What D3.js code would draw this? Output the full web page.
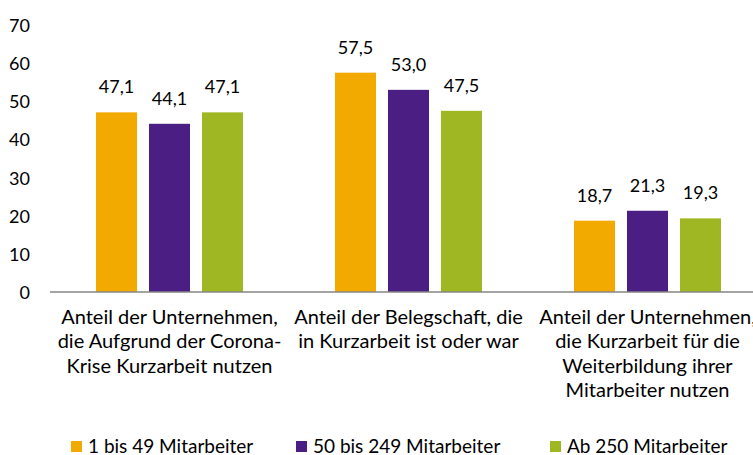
<!DOCTYPE html>
<html><head><meta charset="utf-8">
<script src="https://cdn.jsdelivr.net/npm/d3@7"></script>
<style>
html,body{margin:0;padding:0;background:#fff;}
svg{display:block;font-family:Lato,"Open Sans",sans-serif;}
</style></head>
<body>
<svg id="chart" width="753" height="455"></svg>
<script>
const categories = [
  ["Anteil der Unternehmen,", "die Aufgrund der Corona-", "Krise Kurzarbeit nutzen"],
  ["Anteil der Belegschaft, die", "in Kurzarbeit ist oder war"],
  ["Anteil der Unternehmen,", "die Kurzarbeit für die", "Weiterbildung ihrer", "Mitarbeiter nutzen"]
];
const seriesNames = ["1 bis 49 Mitarbeiter", "50 bis 249 Mitarbeiter", "Ab 250 Mitarbeiter"];
const seriesColors = ["#F2A900", "#4A1E82", "#9EB722"];
const small = [47.1, 57.5, 18.7];
const medium = [44.1, 53.0, 21.3];
const large = [47.1, 47.5, 19.3];
const yTicks = [0, 10, 20, 30, 40, 50, 60, 70];

const seriesValues = [small, medium, large];
const svg = d3.select("#chart");
const fsNum = 18, fsCat = 20, fsLeg = 19;

const catIdx = categories.map((c, i) => i);
const x0 = d3.scaleBand().domain(catIdx).range([50, 767]);
const groupW = 147;
const x1 = d3.scaleBand().domain(d3.range(3)).range([0, groupW]).paddingInner(0.226).paddingOuter(0);
const y = d3.scaleLinear().domain([0, 70]).range([292, 25]);

// y axis labels
const yAxis = d3.axisLeft(y).tickValues(yTicks).tickSize(0).tickPadding(0).tickFormat(d3.format("d"));
const ga = svg.append("g").attr("transform", "translate(30,0)").call(yAxis);
ga.select(".domain").remove();
ga.selectAll("text").attr("font-size", fsNum).attr("font-family", "Lato, 'Open Sans', sans-serif").attr("fill", "#000").attr("dy", "0.36em");

// bars
catIdx.forEach(ci => {
  const gx = x0(ci) + (x0.bandwidth() - groupW) / 2;
  seriesValues.forEach((vals, si) => {
    const v = vals[ci];
    svg.append("rect")
      .attr("x", gx + x1(si)).attr("y", y(v))
      .attr("width", x1.bandwidth()).attr("height", y(0) - y(v))
      .attr("fill", seriesColors[si]);
    svg.append("text")
      .attr("x", gx + x1(si) + x1.bandwidth() / 2).attr("y", y(v) - 19)
      .attr("text-anchor", "middle").attr("font-size", fsNum).attr("fill", "#000")
      .text(d3.format(".1f")(v).replace(".", ","));
  });
});

// baseline
svg.append("line").attr("x1", 50).attr("x2", 767).attr("y1", y(0)).attr("y2", y(0))
  .attr("stroke", "#868686").attr("stroke-width", 1.5);

// category labels
catIdx.forEach(ci => {
  const cx = x0(ci) + x0.bandwidth() / 2;
  const t = svg.append("text").attr("text-anchor", "middle").attr("font-size", fsCat).attr("fill", "#000");
  categories[ci].forEach((line, li) => {
    t.append("tspan").attr("x", cx).attr("y", 324 + li * 24.3).text(line);
  });
});

// legend
const legendX = [71, 296, 550];
seriesNames.forEach((name, i) => {
  svg.append("rect").attr("x", legendX[i]).attr("y", 441).attr("width", 11).attr("height", 11).attr("fill", seriesColors[i]);
  svg.append("text").attr("x", legendX[i] + 17).attr("y", 452.5).attr("font-size", fsLeg).attr("fill", "#000").text(name);
});
</script>
</body></html>
